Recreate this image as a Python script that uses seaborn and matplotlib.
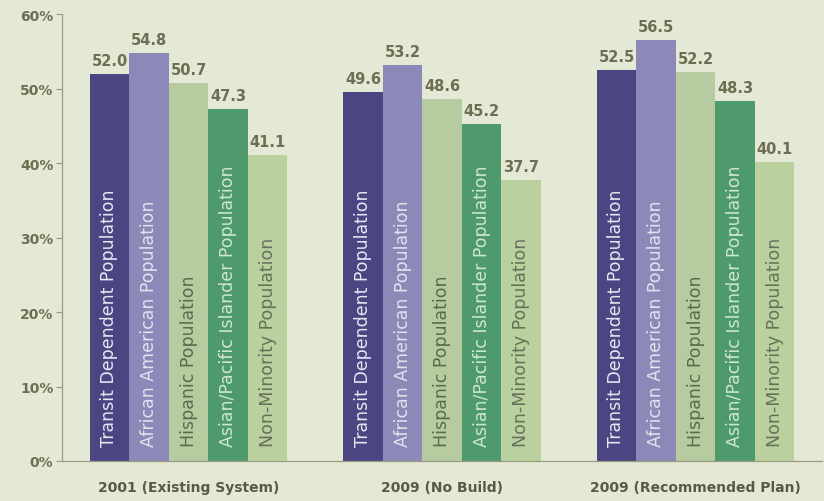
import matplotlib
matplotlib.use("Agg")
import matplotlib.pyplot as plt
import seaborn as sns
import pandas as pd

scenarios = ["2001 (Existing System)", "2009 (No Build)", "2009 (Recommended Plan)"]
groups = ["Transit Dependent Population", "African American Population",
          "Hispanic Population", "Asian/Pacific Islander Population",
          "Non-Minority Population"]
values_2001 = [52.0, 54.8, 50.7, 47.3, 41.1]
values_nobuild = [49.6, 53.2, 48.6, 45.2, 37.7]
values_plan = [52.5, 56.5, 52.2, 48.3, 40.1]
yticks = [0, 10, 20, 30, 40, 50, 60]

colors = ["#4b4682", "#8c89b8", "#b6cb9f", "#4e9a6c", "#bad09f"]
inner_text_colors = ["#e8e6f2", "#e4e2ee", "#5c6850", "#cfe6d4", "#66705a"]

rows = []
for sc, vals in zip(scenarios, [values_2001, values_nobuild, values_plan]):
    for g, v in zip(groups, vals):
        rows.append({"scenario": sc, "group": g, "value": v})
df = pd.DataFrame(rows)

sns.set_theme(style="white")
bg = "#e3e9d4"
fig = plt.figure(figsize=(8.24, 5.02), dpi=100, facecolor=bg)
ax = fig.add_axes([0.075, 0.0797, 0.923, 0.8903])
ax.set_facecolor(bg)

sns.barplot(data=df, x="scenario", y="value", hue="group", order=scenarios,
            hue_order=groups, palette=colors, width=0.78, gap=0,
            saturation=1, legend=False, ax=ax, errorbar=None, linewidth=0)

txt_col = "#6e6e52"
for ci, cont in enumerate(ax.containers):
    for patch, sc in zip(cont.patches, scenarios):
        h = patch.get_height()
        xc = patch.get_x() + patch.get_width() / 2
        ax.text(xc, h + 0.8, f"{h:.1f}", ha="center", va="bottom",
                fontsize=10.5, color=txt_col, fontweight="semibold")
        ax.text(xc, 2.0, groups[ci], rotation=90, ha="center", va="bottom",
                fontsize=12.5, color=inner_text_colors[ci])

ax.set_ylim(0, 60)
ax.set_xlim(-0.5, 2.5)
ax.set_yticks(yticks)
ax.set_yticklabels([f"{t}%" for t in yticks], color=txt_col, fontsize=10,
                   fontweight="semibold")
ax.tick_params(axis="y", left=True, length=4, width=0.8, color="#9a9a80", pad=2)
ax.tick_params(axis="x", bottom=False, pad=8)
for lab in ax.get_xticklabels():
    lab.set_color("#5a5a44")
    lab.set_fontweight("bold")
    lab.set_fontsize(10)
ax.set_xlabel("")
ax.set_ylabel("")
for s in ["top", "right"]:
    ax.spines[s].set_visible(False)
ax.spines["left"].set_color("#9a9a80")
ax.spines["bottom"].set_color("#9a9a80")
ax.spines["left"].set_linewidth(0.9)
ax.spines["bottom"].set_linewidth(0.9)

fig.savefig("out.png", dpi=100, facecolor=bg)
